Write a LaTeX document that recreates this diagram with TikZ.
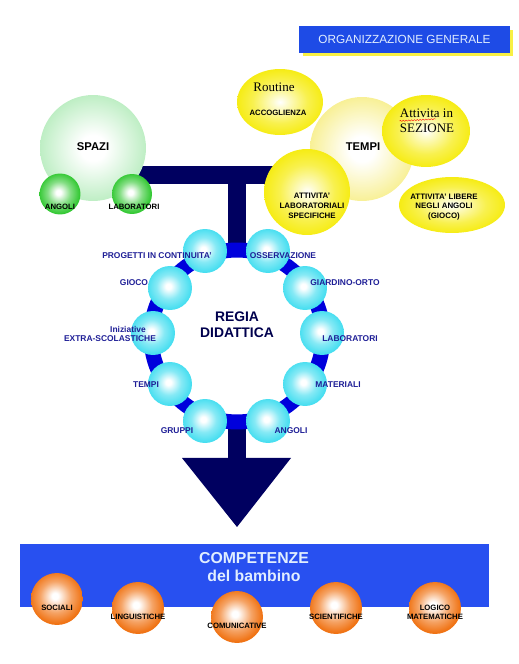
\documentclass[tikz,border=0pt]{standalone}
\usepackage{fontspec}
\setmainfont{Liberation Sans}
\newfontfamily\timesfont{Liberation Serif}
\usetikzlibrary{calc, shapes.geometric, shadows, decorations.pathmorphing}

\definecolor{darknavy}{RGB}{0,0,96}
\definecolor{ringblue}{RGB}{0,0,220}
\definecolor{titleblue}{RGB}{30,75,230}
\definecolor{bannerblue}{RGB}{40,80,240}
\definecolor{cyanb}{RGB}{70,222,240}
\definecolor{greenb}{RGB}{50,200,50}
\definecolor{palegreen}{RGB}{190,238,196}
\definecolor{yellowb}{RGB}{246,236,20}
\definecolor{paleyellow}{RGB}{248,240,150}
\definecolor{orangeb}{RGB}{240,115,20}
\definecolor{lbldark}{RGB}{30,30,150}
\definecolor{pagetext}{RGB}{225,238,255}

\pgfdeclareradialshading{cyanshade}{\pgfpoint{-2bp}{2bp}}{color(0bp)=(white); color(3bp)=(white); color(14bp)=(cyanb!65!white); color(25bp)=(cyanb); color(50bp)=(cyanb)}
\pgfdeclareradialshading{greenshade}{\pgfpoint{-2bp}{2bp}}{color(0bp)=(white); color(3bp)=(white); color(14bp)=(greenb!60!white); color(25bp)=(greenb); color(50bp)=(greenb)}
\pgfdeclareradialshading{paleshade}{\pgfpoint{0bp}{0bp}}{color(0bp)=(white); color(6bp)=(white); color(25bp)=(palegreen); color(50bp)=(palegreen)}
\pgfdeclareradialshading{yellowshade}{\pgfpoint{0bp}{0bp}}{color(0bp)=(white); color(4bp)=(yellowb!20!white); color(16bp)=(yellowb!75!white); color(25bp)=(yellowb); color(50bp)=(yellowb)}
\pgfdeclareradialshading{creamshade}{\pgfpoint{0bp}{0bp}}{color(0bp)=(white); color(6bp)=(white); color(25bp)=(paleyellow); color(50bp)=(paleyellow)}
\pgfdeclareradialshading{orangeshade}{\pgfpoint{-2bp}{3bp}}{color(0bp)=(white); color(3bp)=(white); color(15bp)=(orangeb!65!white); color(25bp)=(orangeb); color(50bp)=(orangeb)}

\begin{document}
\begin{tikzpicture}[x=0.02cm, y=0.02cm,
  cyanball/.style={circle, inner sep=0pt, minimum size=0.88cm, shade, shading=cyanshade},
  greenball/.style={circle, inner sep=0pt, minimum size=0.82cm, shade, shading=greenshade},
  orangeball/.style={circle, inner sep=0pt, minimum size=1.04cm, shade, shading=orangeshade},
  yellowblob/.style={ellipse, inner sep=0pt, shade, shading=yellowshade},
  ringlbl/.style={font=\bfseries\fontsize{4.8}{5.4}\selectfont, text=lbldark, inner sep=0pt},
  smalllbl/.style={font=\bfseries\fontsize{4.4}{5.5}\selectfont, inner sep=0pt, align=center},
  bigword/.style={font=\bfseries\fontsize{6.4}{7.5}\selectfont, inner sep=0pt},
  serifword/.style={font=\timesfont\fontsize{7.4}{8.4}\selectfont, inner sep=0pt},
  navybar/.style={draw=darknavy, line width=0.36cm}]
  \useasboundingbox (0,0) rectangle (519,664);

  % struttura a T e freccia
  \coordinate (barL) at (125,489);
  \coordinate (barR) at (290,489);
  \coordinate (barM) at (237,489);
  \coordinate (ringtop) at (237,412);
  \coordinate (ringbot) at (237,244);
  \coordinate (headtop) at (237,206);
  \coordinate (headL) at (182,206);
  \coordinate (headR) at (291,206);
  \coordinate (headtip) at (237,137);
  \draw[navybar] (barL) -- (barR);
  \draw[navybar] (barM) -- (ringtop);
  \draw[navybar] (ringbot) -- (headtop);
  \fill[darknavy] (headL) -- (headR) -- (headtip) -- cycle;

  % anello regia
  \node[circle, draw=ringblue, line width=0.3cm, minimum size=3.44cm, inner sep=0pt] (regia) at (237,328) {};
  \node[font=\bfseries\fontsize{7.9}{9}\selectfont, text=darknavy!80!black, align=center, inner sep=0pt] (regiatxt) at (237,339) {REGIA\\DIDATTICA};
  \node[cyanball] (prog) at (205,413) {};
  \node[cyanball] (oss) at (268,413) {};
  \node[cyanball] (giard) at (305,376) {};
  \node[cyanball] (labr) at (322,331) {};
  \node[cyanball] (mat) at (305,280) {};
  \node[cyanball] (ang) at (268,243) {};
  \node[cyanball] (grp) at (205,243) {};
  \node[cyanball] (tmp) at (170,280) {};
  \node[cyanball] (iniz) at (153,331) {};
  \node[cyanball] (gioco) at (170,376) {};
  \node[ringlbl] (progt) at (157,408) {PROGETTI IN CONTINUITA'};
  \node[ringlbl] (osst) at (283,408) {OSSERVAZIONE};
  \node[ringlbl] (giardt) at (345,381) {GIARDINO-ORTO};
  \node[ringlbl] (labrt) at (350,325) {LABORATORI};
  \node[ringlbl] (matt) at (338,279) {MATERIALI};
  \node[ringlbl] (angt) at (291,233) {ANGOLI};
  \node[ringlbl] (grpt) at (177,233) {GRUPPI};
  \node[ringlbl] (tmpt) at (146,279) {TEMPI};
  \node[ringlbl] (inizt) at (128,335) {Iniziative};
  \node[ringlbl] (extrat) at (110,325) {EXTRA-SCOLASTICHE};
  \node[ringlbl] (giocot) at (134,381) {GIOCO};

  % spazi
  \node[circle, inner sep=0pt, minimum size=2.12cm, shade, shading=paleshade] (spazi) at (93,516) {};
  \node[greenball] (angoli) at (60,470) {};
  \node[greenball, minimum size=0.8cm] (labor) at (132,470) {};
  \node[bigword] (spazit) at (93,517) {SPAZI};
  \node[smalllbl] (angolit) at (60,457) {ANGOLI};
  \node[smalllbl] (labort) at (134,457) {LABORATORI};

  % tempi
  \node[circle, inner sep=0pt, minimum size=2.08cm, shade, shading=creamshade] (tempi) at (362,515) {};
  \node[yellowblob, minimum width=1.72cm, minimum height=1.32cm] (routine) at (280,562) {};
  \node[yellowblob, minimum width=1.76cm, minimum height=1.44cm] (sezione) at (426,533) {};
  \node[yellowblob, minimum width=1.72cm, minimum height=1.72cm] (labspec) at (307,472) {};
  \node[yellowblob, minimum width=2.12cm, minimum height=1.12cm] (libere) at (452,459) {};
  \node[bigword] (tempit) at (363,517) {TEMPI};
  \node[serifword] (routinet) at (274,577) {Routine};
  \node[smalllbl] (accot) at (278,551) {ACCOGLIENZA};
  \node[serifword, align=left] (sezionet) at (427,543) {Attivita in\\SEZIONE};
  \draw[red, line width=0.2pt, decorate, decoration={snake, amplitude=0.35pt, segment length=1.6pt}]
    ([yshift=-0.04cm]sezionet.north west |- 0,545) -- (436,545);
  \node[smalllbl, font=\bfseries\fontsize{4.5}{5.6}\selectfont] (labspect) at (312,458) {ATTIVITA'\\LABORATORIALI\\SPECIFICHE};
  \node[smalllbl, font=\bfseries\fontsize{4.5}{5.3}\selectfont] (liberet) at (444,457) {ATTIVITA' LIBERE\\NEGLI ANGOLI\\(GIOCO)};

  % titolo
  \node[fill=titleblue, minimum width=4.22cm, minimum height=0.54cm, inner sep=0pt,
        text=pagetext, font=\fontsize{6.7}{8}\selectfont,
        drop shadow={fill=yellowb!80!white, opacity=1, shadow xshift=0.07cm, shadow yshift=-0.07cm}] (titolo) at (404.5,624.5) {ORGANIZZAZIONE GENERALE};

  % competenze
  \node[fill=bannerblue, minimum width=9.38cm, minimum height=1.26cm, inner sep=0pt] (banner) at (254.5,88.5) {};
  \node[font=\bfseries\fontsize{9}{10.5}\selectfont, text=pagetext, align=center, inner sep=0pt] (compt) at (254,97) {COMPETENZE\\del bambino};
  \node[orangeball] (sociali) at (57,65) {};
  \node[orangeball] (lingu) at (138,56) {};
  \node[orangeball] (comun) at (237,47) {};
  \node[orangeball] (scien) at (336,56) {};
  \node[orangeball] (logico) at (435,56) {};
  \node[smalllbl] (socialit) at (57,56) {SOCIALI};
  \node[smalllbl] (lingut) at (138,47) {LINGUISTICHE};
  \node[smalllbl] (comunt) at (237,38) {COMUNICATIVE};
  \node[smalllbl] (scient) at (336,47) {SCIENTIFICHE};
  \node[smalllbl] (logicot) at (435,51.5) {LOGICO\\MATEMATICHE};
\end{tikzpicture}
\end{document}
